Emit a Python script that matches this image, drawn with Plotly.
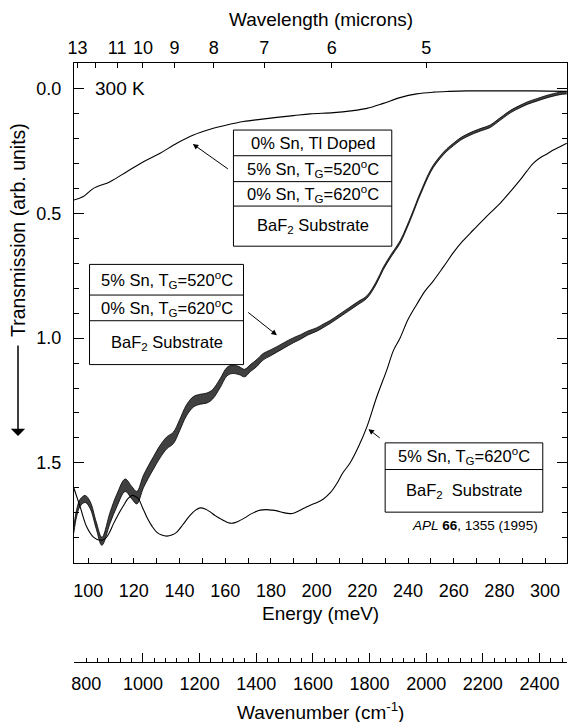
import plotly.graph_objects as go

# ---------------- data ----------------
# Top curve: 0% Sn, Tl doped (transmission, reversed axis)
top_E = [93.7, 97.9, 102.3, 109.6, 116.9, 124.2, 131.5, 138.8, 146.1, 153.4, 160.7, 168.0,
         175.3, 182.6, 189.9, 197.2, 207.4, 215.0, 222.0, 229.2, 236.5, 243.8, 251.1, 258.0,
         265.7, 280.3, 294.9, 309.5]
top_T = [0.446, 0.432, 0.399, 0.372, 0.332, 0.292, 0.258, 0.218, 0.185, 0.162, 0.145, 0.131,
         0.122, 0.114, 0.107, 0.100, 0.095, 0.088, 0.078, 0.058, 0.035, 0.020, 0.013, 0.010,
         0.008, 0.008, 0.008, 0.010]

# Middle curve: 5% Sn TG=520C / 0% Sn TG=620C (centre line and fringe half-width)
mid_E = [93.7, 95.0, 96.5, 98.7, 100.9, 103.5, 106.0, 109.6, 112.6, 116.2, 119.1, 121.3,
         124.2, 128.6, 131.5, 134.4, 137.3, 140.0, 143.0, 146.1, 149.0, 152.0, 154.5, 157.8,
         160.7, 163.0, 166.0, 168.5, 171.0, 173.8, 176.5, 179.6, 182.6, 185.5, 189.9, 193.0,
         196.0, 200.1, 203.0, 205.9, 210.0, 214.0, 218.0, 222.0, 226.0, 229.2, 232.5, 236.5,
         239.5, 242.4, 244.5, 246.8, 249.0, 251.1, 254.0, 257.0, 260.0, 262.8, 265.5, 268.6,
         272.0, 276.0, 279.0, 281.8, 285.0, 289.0, 292.5, 296.4, 300.0, 303.6, 306.5, 309.5]
mid_T = [1.77, 1.70, 1.66, 1.645, 1.67, 1.75, 1.815, 1.72, 1.65, 1.59, 1.62, 1.64,
         1.575, 1.50, 1.455, 1.42, 1.40, 1.35, 1.29, 1.255, 1.245, 1.24, 1.225, 1.18,
         1.135, 1.125, 1.13, 1.14, 1.12, 1.10, 1.075, 1.06, 1.045, 1.03, 1.008, 0.995,
         0.98, 0.965, 0.95, 0.935, 0.91, 0.885, 0.86, 0.835, 0.78, 0.72, 0.67, 0.615,
         0.555, 0.49, 0.44, 0.39, 0.345, 0.31, 0.275, 0.245, 0.222, 0.202, 0.188, 0.175,
         0.163, 0.15, 0.13, 0.111, 0.09, 0.071, 0.056, 0.044, 0.033, 0.024, 0.018, 0.015]
mid_hw = [0.012, 0.014, 0.014, 0.014, 0.014, 0.014, 0.016, 0.022, 0.025, 0.025, 0.025, 0.025,
          0.025, 0.025, 0.025, 0.024, 0.023, 0.022, 0.022, 0.021, 0.02, 0.02, 0.019, 0.018,
          0.017, 0.017, 0.016, 0.015, 0.014, 0.014, 0.013, 0.012, 0.011, 0.011, 0.010, 0.009,
          0.008, 0.007, 0.007, 0.006, 0.006, 0.006, 0.006, 0.005, 0.005, 0.005, 0.005, 0.005,
          0.005, 0.005, 0.005, 0.005, 0.005, 0.005, 0.005, 0.005, 0.005, 0.005, 0.005, 0.005,
          0.005, 0.005, 0.005, 0.005, 0.005, 0.005, 0.005, 0.005, 0.005, 0.005, 0.005, 0.005]

# Bottom curve: 5% Sn, TG=620C
bot_E = [93.7, 96.5, 99.4, 102.3, 105.3, 107.4, 109.3, 111.1, 113.3, 115.5, 117.3, 119.1,
         120.6, 122.0, 123.8, 125.7, 128.0, 130.0, 132.2, 134.4, 136.6, 138.8, 141.7, 144.6,
         147.0, 149.0, 151.2, 153.4, 155.6, 157.8, 160.0, 162.1, 164.3, 166.5, 168.7, 170.9,
         173.1, 175.3, 178.0, 180.5, 182.6, 185.5, 188.4, 190.5, 192.8, 195.0, 197.2, 200.0,
         203.0, 206.0, 208.8, 211.5, 214.7, 218.3, 222.0, 226.3, 230.7, 233.6, 236.5, 240.0,
         243.8, 247.5, 251.1, 255.5, 260.0, 264.0, 268.6, 274.0, 280.3, 285.0, 289.1, 292.0,
         294.9, 298.0, 301.0, 303.6, 306.5, 309.5]
bot_T = [1.60, 1.677, 1.758, 1.798, 1.811, 1.805, 1.78, 1.744, 1.705, 1.671, 1.645, 1.631,
         1.634, 1.644, 1.68, 1.718, 1.755, 1.778, 1.79, 1.794, 1.79, 1.778, 1.745, 1.711,
         1.69, 1.681, 1.685, 1.697, 1.712, 1.724, 1.735, 1.742, 1.74, 1.731, 1.72, 1.707,
         1.697, 1.69, 1.688, 1.69, 1.693, 1.70, 1.704, 1.70, 1.69, 1.68, 1.67, 1.66,
         1.645, 1.62, 1.584, 1.54, 1.50, 1.436, 1.356, 1.236, 1.128, 1.05, 1.0, 0.925,
         0.865, 0.81, 0.77, 0.714, 0.655, 0.61, 0.566, 0.515, 0.459, 0.41, 0.365, 0.33,
         0.298, 0.275, 0.26, 0.245, 0.232, 0.218]

# axis ticks / labels
e_ticks = [100, 120, 140, 160, 180, 200, 220, 240, 260, 280, 300]
y_ticks = [0.0, 0.5, 1.0, 1.5]
y_labels = ["0.0", "0.5", "1.0", "1.5"]
wl_ticks = [13, 12, 11, 10, 9, 8, 7, 6, 5]
wl_labels = ["13", " ", "11", "10", "9", "8", "7", "6", "5"]
wn_ticks = [800, 1000, 1200, 1400, 1600, 1800, 2000, 2200, 2400]
wn_major = [1000, 1200, 1400, 1600, 1800, 2000, 2200, 2400]

# ---------------- conversions / layout helpers ----------------
HC = 1239.84          # meV * micron
MEV2CM = 8.06554      # cm^-1 per meV
E_RANGE = [93.8, 309.6]
Y_RANGE = [1.90, -0.104]

W, H = 568, 722
ML, MR, MT, MB = 74, 1, 63, 60
PW = W - ML - MR
PH = H - MT - MB
def pyp(py):   # pixel y -> paper y
    return (H - MB - py) / PH
def pxp(px):   # pixel x -> paper x
    return (px - ML) / PW

FONT = "Liberation Sans, Arial, Helvetica, sans-serif"
BLACK = "black"

fig = go.Figure()

# top curve
fig.add_trace(go.Scatter(x=top_E, y=top_T, mode="lines", line_shape="spline",
                         line=dict(color=BLACK, width=1.1), showlegend=False, hoverinfo="skip"))
# middle curve drawn as its dense fringe band
mid_up = [t - h for t, h in zip(mid_T, mid_hw)]
mid_lo = [t + h for t, h in zip(mid_T, mid_hw)]
fig.add_trace(go.Scatter(x=mid_E, y=mid_up, mode="lines", line_shape="spline",
                         line=dict(color=BLACK, width=0.8), showlegend=False, hoverinfo="skip"))
fig.add_trace(go.Scatter(x=mid_E, y=mid_lo, mode="lines", line_shape="spline", fill="tonexty",
                         fillcolor="rgba(30,30,30,0.85)",
                         line=dict(color=BLACK, width=0.8), showlegend=False, hoverinfo="skip"))
# bottom curve
fig.add_trace(go.Scatter(x=bot_E, y=bot_T, mode="lines", line_shape="spline",
                         line=dict(color=BLACK, width=1.1), showlegend=False, hoverinfo="skip"))

# dummy traces so overlay axes are drawn
for ax in ["x2", "x3", "x4"]:
    fig.add_trace(go.Scatter(x=[None], y=[None], xaxis=ax, yaxis="y",
                             showlegend=False, hoverinfo="skip"))

ydom = [pyp(562.5), 1.0]
tickfont = dict(family=FONT, size=18, color=BLACK)

fig.update_layout(
    width=W, height=H,
    margin=dict(l=ML, r=MR, t=MT, b=MB),
    paper_bgcolor="white", plot_bgcolor="white",
    font=dict(family=FONT, color=BLACK),
    xaxis=dict(range=E_RANGE, domain=[0, 1], anchor="y",
               tickmode="array", tickvals=e_ticks, ticks="inside", ticklen=5,
               tickcolor=BLACK, tickfont=tickfont, ticklabelstandoff=12,
               minor=dict(dtick=10, tick0=90, ticks="inside", ticklen=5, tickcolor=BLACK),
               showline=True, linecolor=BLACK, linewidth=1, mirror=True,
               showgrid=False, zeroline=False),
    xaxis2=dict(range=E_RANGE, overlaying="x", anchor="y", side="top",
                tickmode="array", tickvals=[HC / l for l in wl_ticks], ticktext=wl_labels,
                ticks="inside", ticklen=5, tickcolor=BLACK, tickfont=tickfont,
                ticklabelstandoff=4,
                showline=False, showgrid=False, zeroline=False),
    xaxis3=dict(range=[E_RANGE[0] * MEV2CM, E_RANGE[1] * MEV2CM], overlaying="x",
                anchor="free", position=0, side="bottom",
                tickmode="array", tickvals=wn_major, showticklabels=False,
                ticks="inside", ticklen=9, tickcolor=BLACK,
                minor=dict(tick0=760, dtick=40, ticks="inside", ticklen=4, tickcolor=BLACK),
                showline=True, linecolor=BLACK, linewidth=1,
                showgrid=False, zeroline=False),
    xaxis4=dict(range=[E_RANGE[0] * MEV2CM, E_RANGE[1] * MEV2CM], overlaying="x",
                anchor="free", position=0, side="bottom",
                tickmode="array", tickvals=wn_ticks, ticktext=[str(v) for v in wn_ticks],
                ticks="", tickfont=tickfont, ticklabelstandoff=9,
                showline=False, showgrid=False, zeroline=False),
    yaxis=dict(range=Y_RANGE, domain=ydom, anchor="x",
               tickmode="array", tickvals=y_ticks, ticktext=y_labels,
               ticks="inside", ticklen=10, tickcolor=BLACK, tickfont=tickfont,
               ticklabelstandoff=8,
               minor=dict(dtick=0.1, tick0=0, ticks="inside", ticklen=5, tickcolor=BLACK),
               showline=True, linecolor=BLACK, linewidth=1, mirror="ticks",
               showgrid=False, zeroline=False),
)

# ---------------- boxes ----------------
shapes = []
def add_box(x0, x1, edges):
    shapes.append(dict(type="rect", xref="x", yref="y", x0=x0, x1=x1, y0=edges[0], y1=edges[-1],
                       line=dict(color=BLACK, width=1), fillcolor="white", layer="above"))
    for e in edges[1:-1]:
        shapes.append(dict(type="line", xref="x", yref="y", x0=x0, x1=x1, y0=e, y1=e,
                           line=dict(color=BLACK, width=1), layer="above"))

box1 = (163.6, 232.9, [0.165, 0.268, 0.372, 0.470, 0.631])
box2 = (100.6, 168.0, [0.704, 0.827, 0.930, 1.106])
box3 = (230.0, 299.0, [1.420, 1.527, 1.698])
box1_txt = ["0% Sn, Tl Doped", "5% Sn, T<sub>G</sub>=520<sup>o</sup>C",
            "0% Sn, T<sub>G</sub>=620<sup>o</sup>C", "BaF<sub>2</sub> Substrate"]
box2_txt = ["5% Sn, T<sub>G</sub>=520<sup>o</sup>C", "0% Sn, T<sub>G</sub>=620<sup>o</sup>C",
            "BaF<sub>2</sub> Substrate"]
box3_txt = ["5% Sn, T<sub>G</sub>=620<sup>o</sup>C", "BaF<sub>2</sub>  Substrate"]

annotations = []
boxfont = dict(family=FONT, size=16.5, color=BLACK)
for (x0, x1, edges), txts in [(box1, box1_txt), (box2, box2_txt), (box3, box3_txt)]:
    add_box(x0, x1, edges)
    for i, t in enumerate(txts):
        annotations.append(dict(x=(x0 + x1) / 2, y=(edges[i] + edges[i + 1]) / 2,
                                xref="x", yref="y", text=t, showarrow=False,
                                font=boxfont, xanchor="center", yanchor="middle"))

# arrows to curves
for (hx, hy), (tx, ty) in [((145.8, 0.221), (161.8, 0.325)),
                           ((182.6, 0.988), (169.4, 0.892)),
                           ((222.7, 1.365), (228.3, 1.405))]:
    annotations.append(dict(x=hx, y=hy, ax=tx, ay=ty, xref="x", yref="y", axref="x", ayref="y",
                            text="", showarrow=True, arrowhead=2, arrowsize=1.1,
                            arrowwidth=1, arrowcolor=BLACK))

TITLE = dict(family=FONT, size=19, color=BLACK)
annotations += [
    dict(x=102.0, y=0.0, xref="x", yref="y", text="300 K", showarrow=False,
         font=TITLE, xanchor="left", yanchor="middle"),
    dict(x=269.4, y=1.752, xref="x", yref="y", text="<i>APL</i> <b>66</b>, 1355 (1995)",
         showarrow=False, font=dict(family=FONT, size=13.5, color=BLACK),
         xanchor="center", yanchor="middle"),
    dict(x=pxp(320.5), y=pyp(19), xref="paper", yref="paper", text="Wavelength (microns)",
         showarrow=False, font=TITLE, xanchor="center", yanchor="middle"),
    dict(x=pxp(320.5), y=pyp(613), xref="paper", yref="paper", text="Energy (meV)",
         showarrow=False, font=TITLE, xanchor="center", yanchor="middle"),
    dict(x=pxp(320.5), y=pyp(711), xref="paper", yref="paper",
         text="Wavenumber (cm<sup>-1</sup>)",
         showarrow=False, font=TITLE, xanchor="center", yanchor="middle"),
    dict(x=pxp(18), y=pyp(230), xref="paper", yref="paper",
         text="Transmission (arb. units)", textangle=-90,
         showarrow=False, font=dict(family=FONT, size=19.5, color=BLACK),
         xanchor="center", yanchor="middle"),
    dict(x=pxp(18), y=pyp(436), xref="paper", yref="paper", ax=0, ay=-92,
         text="", showarrow=True, arrowhead=1, arrowsize=1.6, arrowwidth=1.5,
         arrowcolor=BLACK),
]

fig.update_layout(shapes=shapes, annotations=annotations)
fig.write_html("out.html")
